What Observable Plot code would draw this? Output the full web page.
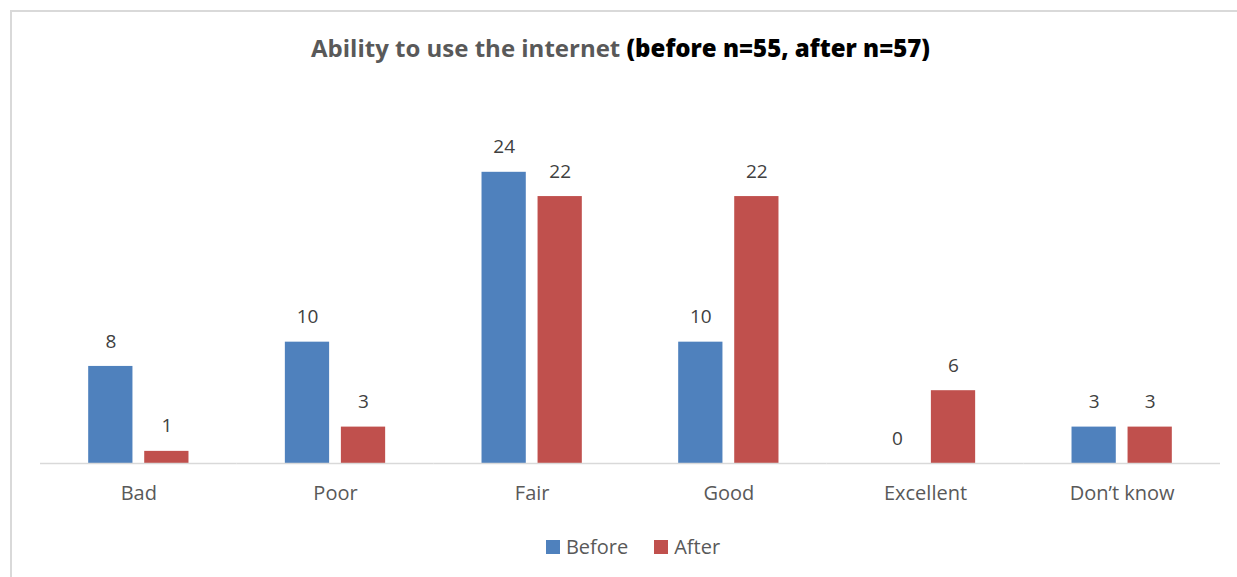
<!DOCTYPE html>
<html>
<head>
<meta charset="utf-8">
<script src="https://cdn.jsdelivr.net/npm/d3@7"></script>
<script src="https://cdn.jsdelivr.net/npm/@observablehq/plot@0.6"></script>
<style>
  html, body { margin: 0; padding: 0; background: #fff; }
  #wrap { position: relative; width: 1237px; height: 577px; overflow: hidden; font-family: "Open Sans", sans-serif; }
  #frame { position: absolute; left: 10px; top: 10px; width: 1300px; height: 700px;
           border-left: 2px solid #d9d9d9; border-top: 2px solid #d9d9d9; box-sizing: border-box; }
  #title { position: absolute; left: 0; width: 1241px; top: 31px; text-align: center;
           font-size: 24px; font-weight: 700; color: #595959; white-space: nowrap; }
  #title b { color: #000; }
  #chart { position: absolute; left: 0; top: 0; }
  #legend { position: absolute; left: 0; width: 1266px; top: 533px; display: flex; justify-content: center;
            gap: 26px; font-size: 20px; color: #595959; }
  #legend span { display: inline-flex; align-items: center; }
  #legend i { display: inline-block; width: 14px; height: 14px; margin-right: 6px; }
</style>
</head>
<body>
<div id="wrap">
  <div id="frame"></div>
  <div id="chart"></div>
  <div id="title">Ability to use the internet <b>(before n=55, after n=57)</b></div>
  <div id="legend"></div>
</div>
<script>
const categories = ["Bad", "Poor", "Fair", "Good", "Excellent", "Don’t know"];
const seriesNames = ["Before", "After"];
const beforeValues = [8, 10, 24, 10, 0, 3];
const afterValues = [1, 3, 22, 22, 6, 3];
const seriesColors = ["#4F81BD", "#C0504D"];

const rows = categories.flatMap((category, i) => [
  {category, series: "Before", value: beforeValues[i]},
  {category, series: "After", value: afterValues[i]}
]);

const chart = Plot.plot({
  width: 1237,
  height: 577,
  marginLeft: 40,
  marginRight: 17,
  marginTop: 99,
  marginBottom: 114,
  style: {fontFamily: "Open Sans, sans-serif", background: "transparent"},
  fx: {domain: categories, padding: 0, label: null, round: false},
  x: {domain: seriesNames, paddingInner: 0.21, paddingOuter: 0.86, axis: null, round: false},
  y: {domain: [0, 30], axis: null},
  color: {domain: seriesNames, range: seriesColors},
  marks: [
    Plot.barY(rows, {fx: "category", x: "series", y: "value", fill: "series"}),
    Plot.ruleY([0], {stroke: "#d9d9d9", strokeWidth: 1.5}),
    Plot.text(rows, {fx: "category", x: "series", y: "value", text: d => String(d.value),
      dy: -25, fontSize: 19, fill: "#404040"}),
    Plot.axisFx({anchor: "bottom", tickSize: 0, tickPadding: 22, fontSize: 20, fill: "#595959", label: null})
  ]
});
document.getElementById("chart").append(chart);

const legend = document.getElementById("legend");
seriesNames.forEach((name, i) => {
  const item = document.createElement("span");
  const swatch = document.createElement("i");
  swatch.style.background = seriesColors[i];
  item.append(swatch, document.createTextNode(name));
  legend.append(item);
});
</script>
</body>
</html>
